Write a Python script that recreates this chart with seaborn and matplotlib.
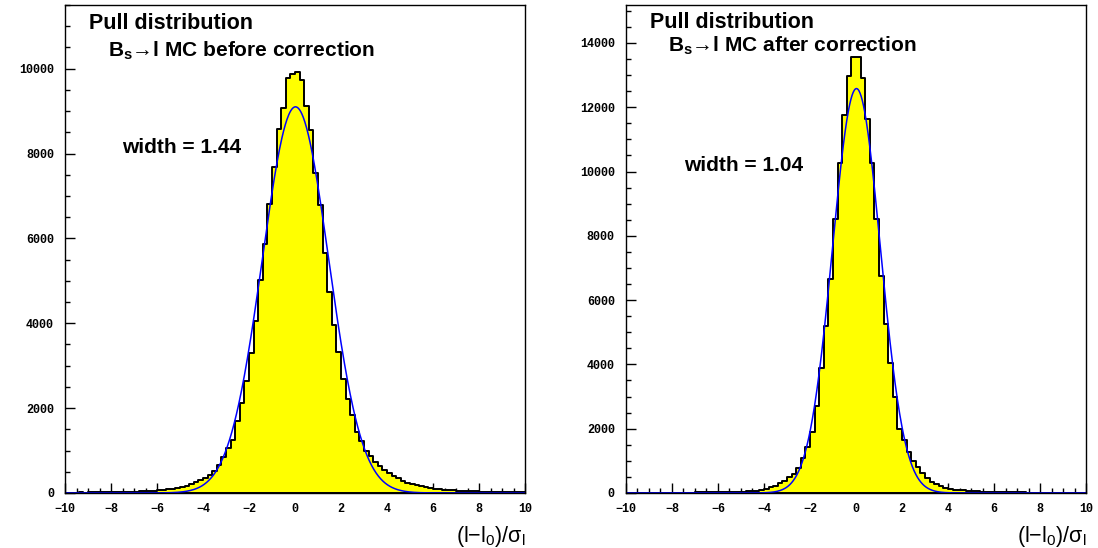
import numpy as np
import pandas as pd
import seaborn as sns
import matplotlib.pyplot as plt
from matplotlib.ticker import MultipleLocator

# 100 bins of width 0.2 between -10 and 10
bin_edges = np.linspace(-10, 10, 101)
bin_centers = (bin_edges[:-1] + bin_edges[1:]) / 2

# counts, left to right
counts_before = [
    8, 10, 9, 12, 11, 12, 14, 13, 16, 18,
    20, 22, 25, 27, 30, 34, 38, 44, 50, 58,
    66, 74, 84, 96, 108, 130, 160, 205,
    259, 299, 354, 432, 510, 650, 841, 1061, 1258, 1690,
    2122, 2633, 3301, 4048, 5030, 5871, 6799, 7687, 8567, 9078,
    9770, 9864,
    9919, 9731, 9118, 8552, 7530, 6783, 5659, 4732, 3969, 3317,
    2688, 2217, 1847, 1431, 1218, 990, 860, 740, 640, 545,
    460, 400,
    346, 283, 244, 212, 181, 157, 134, 118, 102, 94,
    79, 71, 63, 56, 50, 45, 40, 36, 32, 28,
    25, 22, 20, 18, 16, 14, 13, 12,
]
counts_after = [
    5, 5, 6, 6, 7, 7, 8, 8, 9, 10,
    10, 11, 12, 13, 14, 15, 16, 18, 20, 22,
    24, 26, 29, 32, 36, 40, 48, 56,
    70, 92, 135, 180, 220, 295, 388, 505, 600, 790,
    1085, 1440, 1900, 2700, 3900, 5180, 6660, 8510, 10260, 11760,
    12960, 13560,
    13560, 12900, 11640, 10270, 8510, 6760, 5250, 4040, 2990, 1980,
    1660, 1280, 1010, 805, 617, 460, 348, 265, 212, 166,
    130, 104,
    93, 78, 66, 56, 50, 44, 38, 34, 30, 27,
    24, 21, 19, 17, 15, 14, 13, 12, 11, 10,
    9, 9, 8, 8, 7, 7, 6, 6,
]

# gaussian fit parameters shown on the plots
fit_amp = [9100, 12580]
fit_mean = [0.02, 0.02]
fit_width = [1.44, 1.04]

titles = ["B$_{s}$→l MC before correction", "B$_{s}$→l MC after correction"]
width_labels = ["width = 1.44", "width = 1.04"]
ymax = [11500, 15180]

sns.set_style("white")
plt.rcParams["font.family"] = ["Liberation Sans", "DejaVu Sans"]
plt.rcParams["mathtext.default"] = "regular"
plt.rcParams["text.color"] = "black"
plt.rcParams["axes.labelcolor"] = "black"
plt.rcParams["xtick.color"] = "black"
plt.rcParams["ytick.color"] = "black"

fig = plt.figure(figsize=(10.98, 5.48), dpi=100)
axes = [fig.add_axes([0.0592, 0.1004, 0.419, 0.8905]),
        fig.add_axes([0.5701, 0.1004, 0.419, 0.8905])]

xfit = np.linspace(-10, 10, 801)

for i, ax in enumerate(axes):
    counts = counts_before if i == 0 else counts_after
    df = pd.DataFrame({"pull": bin_centers, "n": counts})
    sns.histplot(data=df, x="pull", weights="n", binwidth=0.2, binrange=(-10, 10),
                 element="step", fill=True, color="#ffff00", alpha=1,
                 edgecolor="black", linewidth=1.4, ax=ax)

    gauss = fit_amp[i] * np.exp(-0.5 * ((xfit - fit_mean[i]) / fit_width[i]) ** 2)
    sns.lineplot(x=xfit, y=gauss, color="#0000ff", lw=1.1, sort=False,
                 estimator=None, ax=ax)

    ax.set_xlim(-10, 10)
    ax.set_ylim(0, ymax[i])
    ax.xaxis.set_major_locator(MultipleLocator(2))
    ax.xaxis.set_minor_locator(MultipleLocator(0.5))
    ax.yaxis.set_major_locator(MultipleLocator(2000))
    ax.yaxis.set_minor_locator(MultipleLocator(500))
    ax.tick_params(which="both", direction="in", top=False, right=False,
                   bottom=True, left=True, width=1, color="black")
    ax.tick_params(axis="x", which="major", length=7, pad=7)
    ax.tick_params(axis="y", which="major", length=7, pad=8)
    ax.tick_params(which="minor", length=3.5)
    for lab in ax.get_xticklabels() + ax.get_yticklabels():
        lab.set_fontfamily("Liberation Mono")
        lab.set_fontweight("bold")
        lab.set_fontsize(8.5)
    for sp in ax.spines.values():
        sp.set_color("black")
        sp.set_linewidth(1)

    ax.set_ylabel("")
    ax.set_xlabel("(l−l$_0$)/σ$_l$", fontsize=15.5, loc="right", labelpad=7)

    ax.text(0.052, 0.962 if i == 0 else 0.964, "Pull distribution",
            transform=ax.transAxes, fontsize=15.5, fontweight="bold",
            va="center", ha="left")
    ax.text(0.093 if i == 0 else 0.091, 0.906 if i == 0 else 0.916, titles[i],
            transform=ax.transAxes, fontsize=15, fontweight="bold",
            va="center", ha="left")
    ax.text(0.125 if i == 0 else 0.126, 0.708 if i == 0 else 0.671, width_labels[i],
            transform=ax.transAxes, fontsize=15, fontweight="bold",
            va="center", ha="left")

fig.savefig("out.png", dpi=100)
